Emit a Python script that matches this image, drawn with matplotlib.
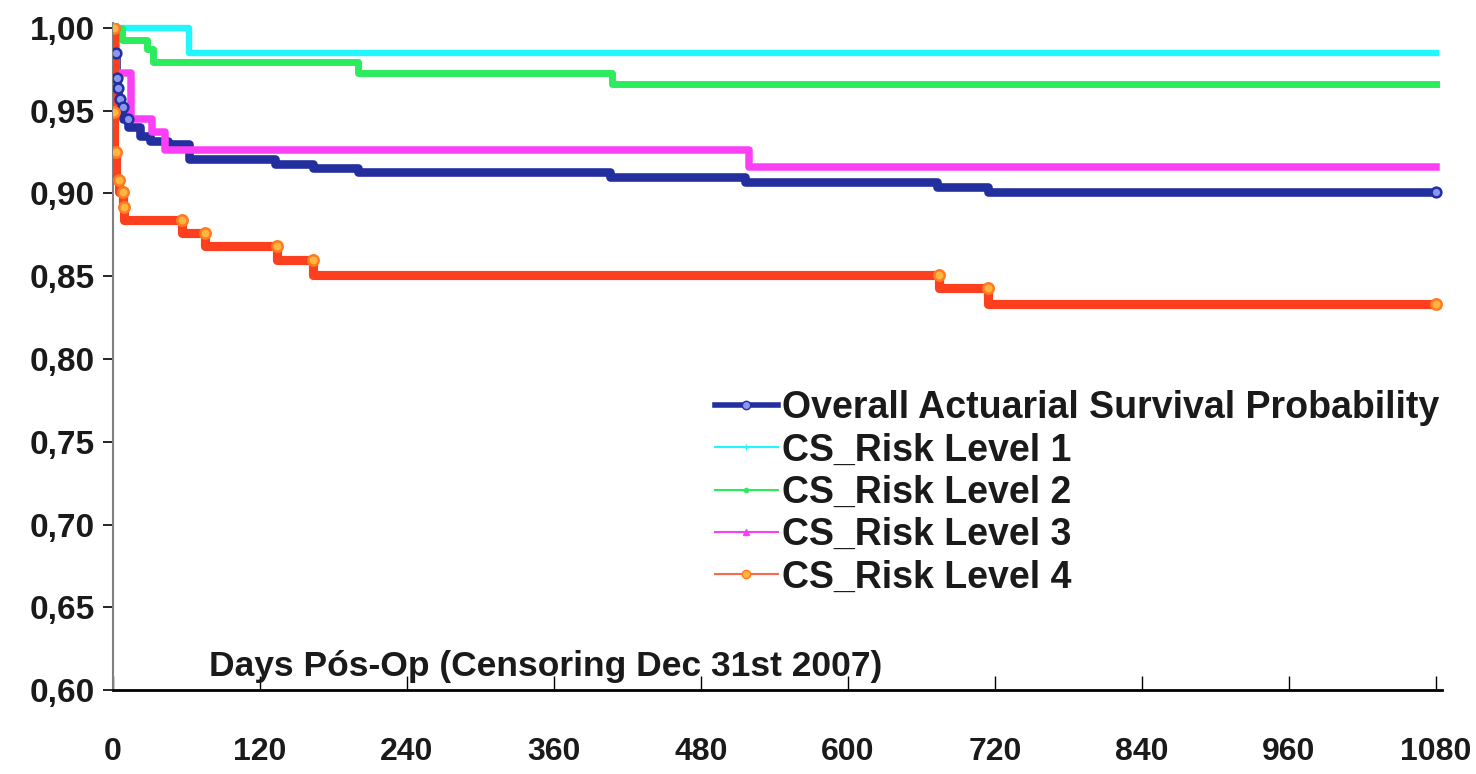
import numpy as np
import matplotlib
matplotlib.use("Agg")
import matplotlib.pyplot as plt
from matplotlib.lines import Line2D

plt.rcParams['font.family'] = ['Liberation Sans', 'DejaVu Sans']
plt.rcParams['font.weight'] = 'bold'

# survival step data: event day -> survival after event
overall_t = [0, 1, 2, 3, 4, 6, 8, 12, 22, 30, 45, 62, 132, 163, 200, 406, 516, 673, 714]
overall_s = [1.000, 0.985, 0.970, 0.964, 0.957, 0.952, 0.945, 0.940, 0.935, 0.932,
             0.930, 0.921, 0.918, 0.9155, 0.913, 0.910, 0.907, 0.904, 0.901]

lvl1_t = [0, 62]
lvl1_s = [1.000, 0.985]

lvl2_t = [0, 7, 28, 33, 200, 407]
lvl2_s = [1.000, 0.993, 0.987, 0.9795, 0.973, 0.966]

lvl3_t = [0, 2, 15, 32, 42, 519]
lvl3_s = [1.000, 0.973, 0.945, 0.937, 0.926, 0.916]

lvl4_t = [0, 0.5, 1, 2, 5, 8, 9, 56, 75, 134, 163, 674, 714]
lvl4_s = [1.000, 0.949, 0.925, 0.908, 0.901, 0.892, 0.884, 0.876, 0.868, 0.860,
          0.851, 0.843, 0.833]

t_end = 1080
x_ticks = [0, 120, 240, 360, 480, 600, 720, 840, 960, 1080]
y_ticks = [0.60, 0.65, 0.70, 0.75, 0.80, 0.85, 0.90, 0.95, 1.00]
y_labels = ['0,60', '0,65', '0,70', '0,75', '0,80', '0,85', '0,90', '0,95', '1,00']

labels = ['Overall Actuarial Survival Probability', 'CS_Risk Level 1',
          'CS_Risk Level 2', 'CS_Risk Level 3', 'CS_Risk Level 4']

c_blue = '#232f9e'
c_cyan = '#22f6ff'
c_green = '#2ceb5c'
c_mag = '#fb3ff6'
c_red = '#fc3f1f'
c_text = '#1a1a1a'

fig = plt.figure(figsize=(14.76, 7.74), dpi=100)
ax = fig.add_axes([0.0766, 0.1085, 0.9004, 0.8618])


def km(t, s):
    return list(t) + [t_end], list(s) + [s[-1]]


x, y = km(lvl1_t, lvl1_s)
ax.step(x, y, where='post', color=c_cyan, lw=4.6, zorder=3)
x, y = km(lvl2_t, lvl2_s)
ax.step(x, y, where='post', color=c_green, lw=5, zorder=3)
x, y = km(overall_t, overall_s)
ax.step(x, y, where='post', color=c_blue, lw=6.2, zorder=4)
x, y = km(lvl3_t, lvl3_s)
ax.step(x, y, where='post', color=c_mag, lw=5.4, zorder=5)
x, y = km(lvl4_t, lvl4_s)
ax.step(x, y, where='post', color=c_red, lw=6.6, zorder=6)

# markers at the upper corner of each drop, plus the last point
bx = overall_t[1:8] + [t_end]
by = overall_s[:7] + [overall_s[-1]]
ax.plot(bx, by, ls='none', marker='o', ms=7, mfc='#8a96f0', mec=c_blue, mew=1.8, zorder=7)
rx = lvl4_t[1:] + [t_end]
ry = lvl4_s[:-1] + [lvl4_s[-1]]
ax.plot(rx, ry, ls='none', marker='o', ms=7.5, mfc='#ffb640', mec='#ff7a20', mew=1.8, zorder=8)

ax.set_xlim(0, 1085)
ax.set_ylim(0.60, 1.003)
ax.set_xticks(x_ticks)
ax.set_xticklabels([str(v) for v in x_ticks])
ax.set_yticks(y_ticks)
ax.set_yticklabels(y_labels)
ax.tick_params(axis='x', direction='in', length=10, width=1, pad=34, labelsize=23,
               labelcolor=c_text)
ax.tick_params(axis='y', direction='out', length=7, width=1.2, pad=6, labelsize=24,
               labelcolor=c_text)

for side in ['top', 'right']:
    ax.spines[side].set_visible(False)
ax.spines['left'].set_color('#808080')
ax.spines['left'].set_linewidth(1.5)
ax.spines['bottom'].set_linewidth(2)

ax.text(78, 0.6085, 'Days Pós-Op (Censoring Dec 31st 2007)', fontsize=25.5,
        fontweight='bold', ha='left', va='baseline', color=c_text)

handles = [
    Line2D([], [], color=c_blue, lw=4, marker='o', ms=6, mfc='#8a96f0', mec=c_blue),
    Line2D([], [], color=c_cyan, lw=1.5, marker='+', ms=5),
    Line2D([], [], color=c_green, lw=1.5, marker='.', ms=6),
    Line2D([], [], color=c_mag, lw=1.5, marker='^', ms=5),
    Line2D([], [], color='#f86a50', lw=1.5, marker='o', ms=6, mfc='#ffb640', mec='#ff7a20'),
]
leg = fig.legend(handles, labels, loc='upper left', bbox_to_anchor=(0.474, 0.5155),
                 frameon=False, fontsize=27, handlelength=1.7, handletextpad=0.1,
                 labelspacing=0.17, borderaxespad=0)
for t in leg.get_texts():
    t.set_fontweight('bold')
    t.set_color(c_text)

fig.savefig('out.png', dpi=100)
